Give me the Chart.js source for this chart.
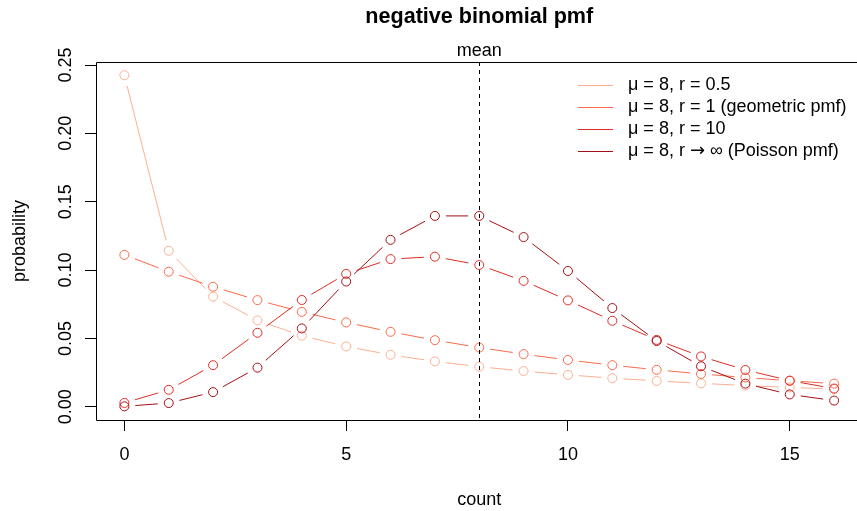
<!DOCTYPE html>
<html>

<head>
    <meta charset="utf-8">
    <title>negative binomial pmf</title>
    <script src="https://cdn.jsdelivr.net/npm/chart.js"></script>
    <style>
        html,
        body {
            margin: 0;
            padding: 0;
            background: #fff;
            overflow: hidden;
        }

        /* o quadro do gráfico passa um pouco da janela à direita */
        #quadro {
            width: 857px;
            height: 511px;
            overflow: hidden;
        }
    </style>
</head>

<body>
    <div id="quadro"><canvas id="graficoPmf" width="868" height="511"></canvas></div>

    <script>
        // Contagens no eixo x
        var contagens = [0, 1, 2, 3, 4, 5, 6, 7, 8, 9, 10, 11, 12, 13, 14, 15, 16];

        // Probabilidades de cada curva (média 8)
        var pmfR05 = [0.2425, 0.1141, 0.0806, 0.0632, 0.0520, 0.0441, 0.0380, 0.0332, 0.0293,
            0.0261, 0.0233, 0.0209, 0.0189, 0.0171, 0.0155, 0.0141, 0.0129];
        var pmfR1 = [0.1111, 0.0988, 0.0878, 0.0780, 0.0694, 0.0617, 0.0548, 0.0487, 0.0433,
            0.0385, 0.0342, 0.0304, 0.0270, 0.0240, 0.0214, 0.0190, 0.0169];
        var pmfR10 = [0.0028, 0.0124, 0.0304, 0.0541, 0.0781, 0.0972, 0.1080, 0.1098, 0.1037,
            0.0921, 0.0778, 0.0629, 0.0489, 0.0368, 0.0269, 0.0191, 0.0133];
        var pmfPoisson = [0.0003, 0.0027, 0.0107, 0.0286, 0.0573, 0.0916, 0.1221, 0.1396, 0.1396,
            0.1241, 0.0993, 0.0722, 0.0481, 0.0296, 0.0169, 0.0090, 0.0045];

        var rotulos = [
            "\u03bc = 8, r = 0.5",
            "\u03bc = 8, r = 1 (geometric pmf)",
            "\u03bc = 8, r = 10",
            "\u03bc = 8, r \u2192 \u221e (Poisson pmf)"
        ];
        var cores = ["#FCAE91", "#FB6A4A", "#DE2D26", "#A50F15"];

        // Marcas dos eixos
        var ticksX = [0, 5, 10, 15];
        var ticksY = [0, 0.05, 0.10, 0.15, 0.20, 0.25];
        var rotulosY = ["0.00", "0.05", "0.10", "0.15", "0.20", "0.25"];

        var media = 8;
        var titulo = "negative binomial pmf";

        var FONTE = '"Liberation Sans", Arial, Helvetica, sans-serif';
        var FONTE_SETA = '"DejaVu Sans", sans-serif';
        Chart.defaults.font.family = FONTE;
        Chart.defaults.font.size = 18;
        Chart.defaults.color = "#000";

        // distância entre o centro do ponto e o começo da linha (estilo type = "b")
        var FOLGA = 11;

        function pontos(valores) {
            return contagens.map(function (k, i) {
                return { x: k, y: valores[i] };
            });
        }

        // escreve um texto trocando a fonte só na seta, que fica maior e centrada
        function escreverComSeta(ctx, texto, x, y) {
            var partes = texto.split("\u2192");
            for (var i = 0; i < partes.length; i++) {
                ctx.font = "18px " + FONTE;
                ctx.fillText(partes[i], x, y);
                x += ctx.measureText(partes[i]).width;
                if (i < partes.length - 1) {
                    ctx.font = "18px " + FONTE_SETA;
                    ctx.fillText("\u2192", x, y);
                    x += ctx.measureText("\u2192").width;
                }
            }
            ctx.font = "18px " + FONTE;
        }

        // Linhas entre os pontos, com um espaço em volta de cada círculo
        var pluginLinhasComFolga = {
            id: "linhasComFolga",
            beforeDatasetDraw: function (chart, args) {
                var ds = chart.data.datasets[args.index];
                var pts = args.meta.data;
                var ctx = chart.ctx;
                ctx.save();
                ctx.strokeStyle = ds.borderColor;
                ctx.lineWidth = 1;
                ctx.beginPath();
                for (var i = 1; i < pts.length; i++) {
                    var x0 = pts[i - 1].x, y0 = pts[i - 1].y;
                    var x1 = pts[i].x, y1 = pts[i].y;
                    var dx = x1 - x0, dy = y1 - y0;
                    var d = Math.sqrt(dx * dx + dy * dy);
                    if (d <= 2 * FOLGA) continue;
                    var f = FOLGA / d;
                    ctx.moveTo(x0 + dx * f, y0 + dy * f);
                    ctx.lineTo(x1 - dx * f, y1 - dy * f);
                }
                ctx.stroke();
                ctx.restore();
            }
        };

        // Moldura, linha da média, título, rótulos do eixo y e legenda
        var pluginMoldura = {
            id: "moldura",
            beforeDatasetsDraw: function (chart) {
                var a = chart.chartArea;
                var ctx = chart.ctx;
                var l = Math.round(a.left) + 0.5, t = Math.round(a.top) + 0.5;
                var r = Math.round(a.right) + 0.5, b = Math.round(a.bottom) + 0.5;
                // o lado direito da caixa fica fora da janela
                ctx.save();
                ctx.strokeStyle = "#000";
                ctx.lineWidth = 1;
                ctx.beginPath();
                ctx.moveTo(r, t);
                ctx.lineTo(l, t);
                ctx.lineTo(l, b);
                ctx.lineTo(r, b);
                ctx.stroke();
                ctx.restore();
            },
            afterDatasetsDraw: function (chart) {
                var a = chart.chartArea;
                var ctx = chart.ctx;
                var xm = Math.round(chart.scales.x.getPixelForValue(media)) + 0.5;
                ctx.save();
                ctx.strokeStyle = "#000";
                ctx.lineWidth = 1;
                ctx.setLineDash([4, 4]);
                ctx.beginPath();
                ctx.moveTo(xm, a.top);
                ctx.lineTo(xm, a.bottom);
                ctx.stroke();
                ctx.restore();
            },
            afterDraw: function (chart) {
                var a = chart.chartArea;
                var ctx = chart.ctx;
                var escalaX = chart.scales.x;
                var escalaY = chart.scales.y;
                ctx.save();
                ctx.fillStyle = "#000";

                // título principal
                ctx.font = "bold 21.6px " + FONTE;
                ctx.textAlign = "center";
                ctx.textBaseline = "alphabetic";
                ctx.fillText(titulo, (a.left + a.right) / 2, 23);

                // texto sobre a linha da média
                ctx.font = "18px " + FONTE;
                ctx.fillText("mean", escalaX.getPixelForValue(media), 56);

                // rótulos do eixo y, na vertical
                for (var i = 0; i < ticksY.length; i++) {
                    var py = escalaY.getPixelForValue(ticksY[i]);
                    ctx.save();
                    ctx.translate(71, py);
                    ctx.rotate(-Math.PI / 2);
                    ctx.textAlign = "center";
                    ctx.fillText(rotulosY[i], 0, 0);
                    ctx.restore();
                }

                // legenda sem caixa, só com linhas
                var lx0 = 578, lx1 = 613, tx = 628, ly = 85, passo = 21.9;
                ctx.textAlign = "left";
                ctx.textBaseline = "middle";
                ctx.lineWidth = 1;
                for (var j = 0; j < rotulos.length; j++) {
                    var y = Math.round(ly + j * passo) + 0.5;
                    ctx.strokeStyle = cores[j];
                    ctx.beginPath();
                    ctx.moveTo(lx0, y);
                    ctx.lineTo(lx1, y);
                    ctx.stroke();
                    escreverComSeta(ctx, rotulos[j], tx, y);
                }
                ctx.restore();
            }
        };

        var series = [pmfR05, pmfR1, pmfR10, pmfPoisson];
        var datasets = series.map(function (valores, i) {
            return {
                label: rotulos[i],
                data: pontos(valores),
                borderColor: cores[i],
                backgroundColor: "rgba(0,0,0,0)",
                pointBackgroundColor: "rgba(0,0,0,0)",
                pointBorderColor: cores[i],
                pointBorderWidth: 1,
                pointRadius: 4.5,
                pointHoverRadius: 4.5,
                showLine: false,
                // a última série fica por cima
                order: series.length - 1 - i
            };
        });

        var ctx = document.getElementById("graficoPmf").getContext("2d");
        var grafico = new Chart(ctx, {
            type: "scatter",
            data: { datasets: datasets },
            plugins: [pluginLinhasComFolga, pluginMoldura],
            options: {
                responsive: false,
                animation: false,
                layout: { padding: { top: 62, right: 1, bottom: 0, left: 0 } },
                plugins: {
                    legend: { display: false },
                    title: { display: false },
                    tooltip: { enabled: false }
                },
                scales: {
                    x: {
                        type: "linear",
                        min: -0.64,
                        max: 16.64,
                        afterBuildTicks: function (scale) {
                            scale.ticks = ticksX.map(function (v) { return { value: v }; });
                        },
                        afterFit: function (scale) {
                            scale.height = 91;
                        },
                        ticks: {
                            padding: 13,
                            callback: function (v) { return String(v); },
                            font: { size: 18 },
                            color: "#000"
                        },
                        grid: {
                            display: true,
                            drawOnChartArea: false,
                            drawTicks: true,
                            tickLength: 11,
                            color: "#000",
                            lineWidth: 1
                        },
                        border: { display: false },
                        title: {
                            display: true,
                            text: "count",
                            font: { size: 18 },
                            color: "#000",
                            padding: { top: 0, bottom: 0 }
                        }
                    },
                    y: {
                        type: "linear",
                        min: -0.0097,
                        max: 0.2522,
                        afterBuildTicks: function (scale) {
                            scale.ticks = ticksY.map(function (v) { return { value: v }; });
                        },
                        afterFit: function (scale) {
                            scale.width = 96;
                        },
                        ticks: { display: false },
                        grid: {
                            display: true,
                            drawOnChartArea: false,
                            drawTicks: true,
                            tickLength: 11,
                            color: "#000",
                            lineWidth: 1
                        },
                        border: { display: false },
                        title: {
                            display: true,
                            text: "probability",
                            font: { size: 18 },
                            color: "#000",
                            padding: { top: 9, bottom: 0 }
                        }
                    }
                }
            }
        });
    </script>
</body>

</html>
